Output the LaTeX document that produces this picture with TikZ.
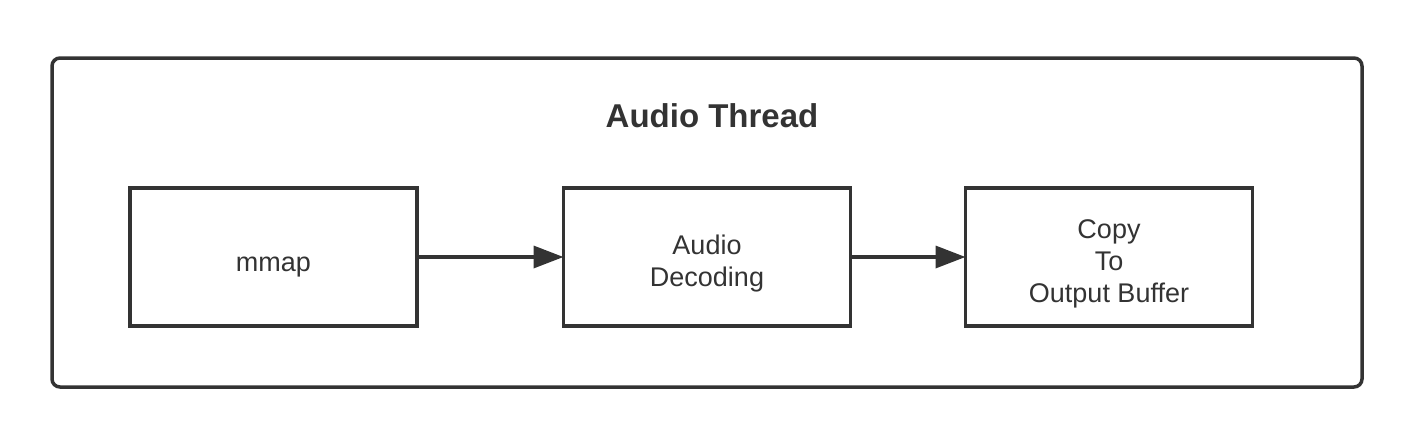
\documentclass[tikz,border=0pt]{standalone}
\usepackage{fontspec}
\setmainfont{Liberation Sans}
\usetikzlibrary{arrows.meta}
\definecolor{ink}{HTML}{333333}
\begin{document}
\begin{tikzpicture}[x=0.5pt,y=-0.5pt,
  stagebox/.style={draw=ink,line width=1.75pt,minimum width=143.5pt,minimum height=69pt,
    inner sep=0pt,outer sep=0pt},
  stagetext/.style={align=center,text=ink,font=\fontsize{13.5}{16}\selectfont,inner sep=0pt},
  flow/.style={draw=ink,line width=1.75pt,-{Triangle[length=15pt,width=11pt]}}]
\useasboundingbox (0,0) rectangle (1414,440);
\node[draw=ink,line width=1.75pt,rounded corners=4pt,minimum width=655pt,minimum height=164.5pt,inner sep=0pt] (thread) at (707,222.5) {};
\node[text=ink,font=\bfseries\fontsize{16.5}{20}\selectfont] (title) at (712,116) {Audio Thread};
\node[stagebox] (mmap) at (273.5,257) {};
\node[stagebox] (dec) at (707,257) {};
\node[stagebox] (copy) at (1109,257) {};
\node[stagetext] (mmaplabel) at (273.5,267) {mmap};
\node[stagetext] (declabel) at (707,264) {Audio\\Decoding};
\node[stagetext] (copylabel) at (1109,264) {Copy\\To\\Output Buffer};
\draw[flow] (mmap.east) -- (dec.west);
\draw[flow] (dec.east) -- (copy.west);
\end{tikzpicture}
\end{document}
